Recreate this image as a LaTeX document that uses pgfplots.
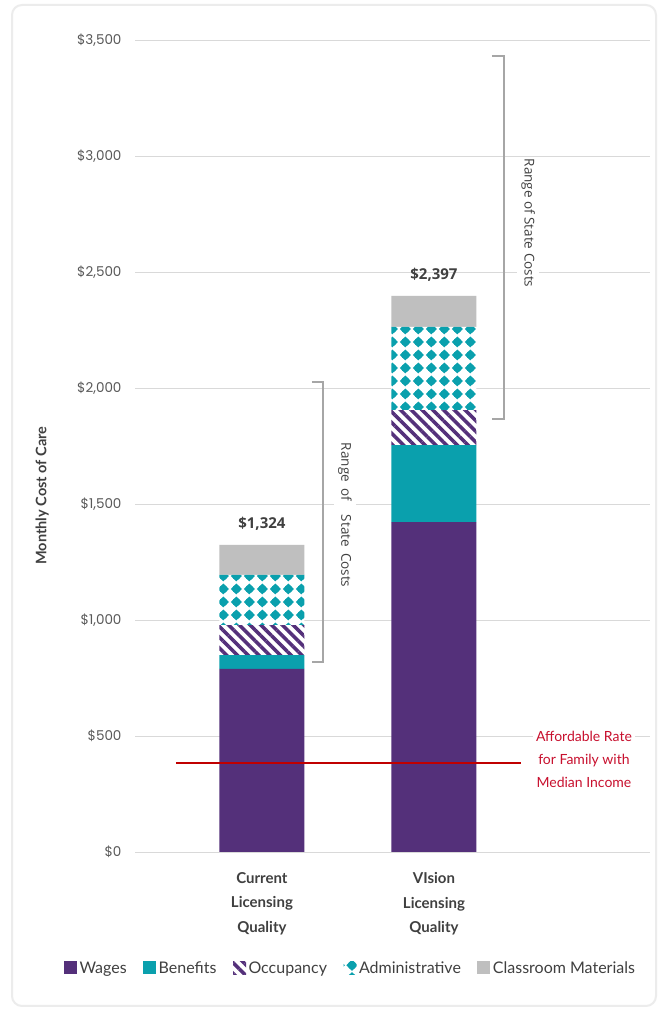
\documentclass[border=0pt]{standalone}
\usepackage{fontspec}
\setmainfont{Lato}
\newfontfamily\osans{Open Sans}
\newfontfamily\pop{Poppins}
\usepackage{pgfplots}
\pgfplotsset{compat=1.18}
\usetikzlibrary{patterns,patterns.meta}

\definecolor{wages}{HTML}{54307A}
\definecolor{benefits}{HTML}{0AA0AD}
\definecolor{materials}{HTML}{BFBFBF}
\definecolor{gridc}{HTML}{D9D9D9}
\definecolor{txt}{HTML}{404040}
\definecolor{tick}{HTML}{595959}
\definecolor{brk}{HTML}{A6A6A6}
\definecolor{redl}{HTML}{C00000}
\definecolor{redt}{HTML}{C8102E}
\definecolor{frame}{HTML}{ECECEC}

\pgfdeclarepatternformonly{admdots}{\pgfqpoint{0pt}{0pt}}{\pgfqpoint{12.8pt}{12.5pt}}{\pgfqpoint{12.8pt}{12.5pt}}{
  \pgfpathmoveto{\pgfqpoint{6.4pt}{0.6pt}}
  \pgfpathlineto{\pgfqpoint{12.0pt}{6.25pt}}
  \pgfpathlineto{\pgfqpoint{6.4pt}{11.9pt}}
  \pgfpathlineto{\pgfqpoint{0.8pt}{6.25pt}}
  \pgfpathclose
  \pgfusepath{fill}
  \pgfpathcircle{\pgfqpoint{6.4pt}{6.25pt}}{4.2pt}
  \pgfusepath{fill}
}

\pgfplotsset{
  base/.style={
    at={(135pt,157pt)}, anchor=south west,
    scale only axis, width=515pt, height=812pt,
    xmin=-0.738, xmax=2.256, ymin=0, ymax=3500,
  },
}

\begin{document}
\begin{tikzpicture}
\useasboundingbox (0,0) rectangle (659pt,1009pt);
\fill[white] (0,0) rectangle (659pt,1009pt);
\draw[frame, line width=2pt, rounded corners=10pt] (12pt,3pt) rectangle (656pt,1004pt);

\begin{axis}[base,
  ybar stacked, bar width=85pt,
  axis line style={draw=none}, major tick length=0pt,
  ymajorgrids, grid style={gridc, line width=0.9pt},
  ytick={0,500,...,3500},
  /pgf/number format/.cd, fixed, precision=0, 1000 sep={,}, assume math mode=true,
  /pgfplots/.cd,
  yticklabel={\$\pgfmathprintnumber{\tick}},
  yticklabel style={font=\pop\fontsize{13.5}{15}\selectfont, color=tick, xshift=-10pt},
  xtick={0,1},
  xticklabels={{Current\\Licensing\\Quality},{VIsion\\Licensing\\Quality}},
  xticklabel style={align=center, font=\bfseries\fontsize{15}{24.5}\selectfont, color=txt, yshift=-17pt},
  ylabel={Monthly Cost of Care},
  ylabel style={at={(axis description cs:-0.18,0.439)}, anchor=center, font=\bfseries\fontsize{14.5}{16}\selectfont, color=txt},
  legend columns=-1,
  legend style={at={(axis description cs:0.419,-0.1429)}, anchor=center, draw=none, fill=none,
    font=\fontsize{16}{18}\selectfont, text=txt,
    /tikz/every even column/.append style={column sep=14pt},
    nodes={inner xsep=2.5pt}},
  legend image code/.code={\path[#1] (0pt,-6pt) rectangle (13pt,7pt);},
]
\addplot[fill=wages, draw=none] coordinates {(0,789) (1,1422)};
\addlegendentry{Wages}
\addplot[fill=benefits, draw=none] coordinates {(0,60) (1,332)};
\addlegendentry{Benefits}
\addplot[fill=white, draw=none, postaction={pattern={Lines[angle=-45,distance=7.6pt,line width=3.6pt]}, pattern color=wages}] coordinates {(0,129) (1,151)};
\addlegendentry{Occupancy}
\addplot[fill=white, draw=none, postaction={pattern=admdots, pattern color=benefits}] coordinates {(0,216) (1,358)};
\addlegendentry{Administrative}
\addplot[fill=materials, draw=none] coordinates {(0,130) (1,134)};
\addlegendentry{Classroom Materials}
\end{axis}

\begin{axis}[base, hide axis, clip=false]
\addplot[redl, line width=2.6pt] coordinates {(-0.5,384) (1.506,384)};
\addplot[brk, line width=2.2pt] coordinates {(0.29,2027) (0.355,2027) (0.355,819) (0.29,819)};
\addplot[brk, line width=2.2pt] coordinates {(1.337,3431) (1.407,3431) (1.407,1866) (1.337,1866)};
\node[anchor=south, font=\osans\bfseries\fontsize{15}{17}\selectfont, text=txt] at (axis cs:0,1324) [yshift=11pt] {\$1,324};
\node[anchor=south, font=\osans\bfseries\fontsize{15}{17}\selectfont, text=txt] at (axis cs:1,2397) [yshift=11pt] {\$2,397};
\node[rotate=-90, fill=white, inner xsep=2pt, inner ysep=4pt, font=\osans\fontsize{13.5}{15}\selectfont, text=txt] at (axis cs:0.483,1452) {Range\hspace{0.5em}of\hspace{1em}State\hspace{0.45em}Costs};
\node[rotate=-90, fill=white, inner xsep=2pt, inner ysep=4pt, font=\osans\fontsize{13.5}{15}\selectfont, text=txt] at (axis cs:1.547,2711) {Range of State Costs};
\node[align=center, fill=white, inner sep=3pt, font=\fontsize{14}{23}\selectfont, text=redt] at (axis cs:1.872,397) {Affordable Rate\\for Family with\\Median Income};
\end{axis}
\end{tikzpicture}
\end{document}
